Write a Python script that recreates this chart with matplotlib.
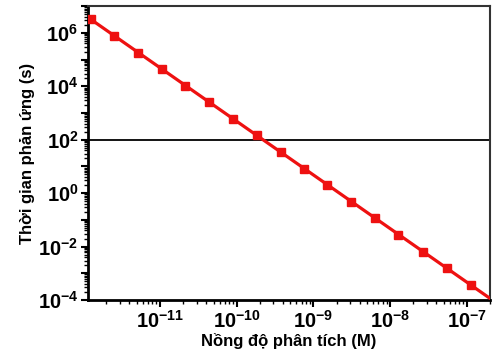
import matplotlib
matplotlib.use('Agg')
import matplotlib.pyplot as plt
import matplotlib.ticker as mticker
import numpy as np

plt.rcParams['font.family'] = ['Liberation Sans', 'DejaVu Sans']
plt.rcParams['mathtext.fontset'] = 'custom'
plt.rcParams['mathtext.rm'] = 'Liberation Sans'
plt.rcParams['mathtext.bf'] = 'Liberation Sans:bold'

# concentration (M) and response time (s)
conc = [1.27e-12, 2.53e-12, 5.18e-12, 1.06e-11, 2.11e-11, 4.33e-11, 8.87e-11,
        1.82e-10, 3.73e-10, 7.63e-10, 1.52e-9, 3.12e-9, 6.38e-9, 1.27e-8,
        2.69e-8, 5.50e-8, 1.13e-7]
time_s = [3.4e6, 7.9e5, 1.8e5, 4.6e4, 1.05e4, 2.6e3, 6.1e2, 1.5e2, 35, 8.1,
          2.0, 0.48, 0.12, 0.028, 6.4e-3, 1.6e-3, 3.7e-4]
threshold = 100

x_decades = [-11, -10, -9, -8, -7]
y_decades = list(range(-4, 8))
y_labelled = [-4, -2, 0, 2, 4, 6]

xlim = (1.16e-12, 2.0e-7)
ylim = (1e-4, 1e7)

fig = plt.figure(figsize=(4.92, 3.61), dpi=100)
ax = fig.add_axes([0.179, 0.169, 0.817, 0.814])

# fitted line in log-log space, drawn to the right edge
p = np.polyfit(np.log10(conc), np.log10(time_s), 1)
xf = np.logspace(np.log10(conc[0]), np.log10(xlim[1]), 50)
ax.plot(xf, 10 ** np.polyval(p, np.log10(xf)), color='#ee1111', lw=2.3, zorder=3)
ax.plot(conc, time_s, linestyle='none', marker='s', ms=5.5, color='#ee1111', zorder=4)
ax.axhline(threshold, color='black', lw=1.3, zorder=2)

ax.set_xscale('log')
ax.set_yscale('log')
ax.set_xlim(*xlim)
ax.set_ylim(*ylim)

ax.set_xticks([10.0 ** e for e in x_decades])
ax.set_xticklabels([r'$\mathbf{10^{%d}}$' % e for e in x_decades])
ax.set_yticks([10.0 ** e for e in y_decades])
ax.set_yticklabels([r'$\mathbf{10^{%d}}$' % e if e in y_labelled else '' for e in y_decades])

xminor = [m * 10.0 ** e for e in range(-12, -6) for m in range(2, 10)]
yminor = [m * 10.0 ** e for e in range(-4, 7) for m in range(2, 10)]
ax.set_xticks([v for v in xminor if xlim[0] <= v <= xlim[1]], minor=True)
ax.set_yticks([v for v in yminor if ylim[0] <= v <= ylim[1]], minor=True)
ax.xaxis.set_minor_formatter(mticker.NullFormatter())
ax.yaxis.set_minor_formatter(mticker.NullFormatter())

ax.tick_params(which='major', direction='out', length=5, width=1.5, labelsize=14.5, pad=2)
ax.tick_params(which='minor', direction='out', length=3, width=1.0)
ax.tick_params(top=False, right=False, which='both')

for s in ['left', 'bottom']:
    ax.spines[s].set_linewidth(2)
    ax.spines[s].set_color('black')
for s in ['top', 'right']:
    ax.spines[s].set_linewidth(1.5)
    ax.spines[s].set_color('#333333')

ax.set_xlabel('Nồng độ phân tích (M)', fontsize=12, fontweight='bold', labelpad=1)
ax.set_ylabel('Thời gian phản ứng (s)', fontsize=12, fontweight='bold', labelpad=2)

fig.savefig('out.png', dpi=100)
